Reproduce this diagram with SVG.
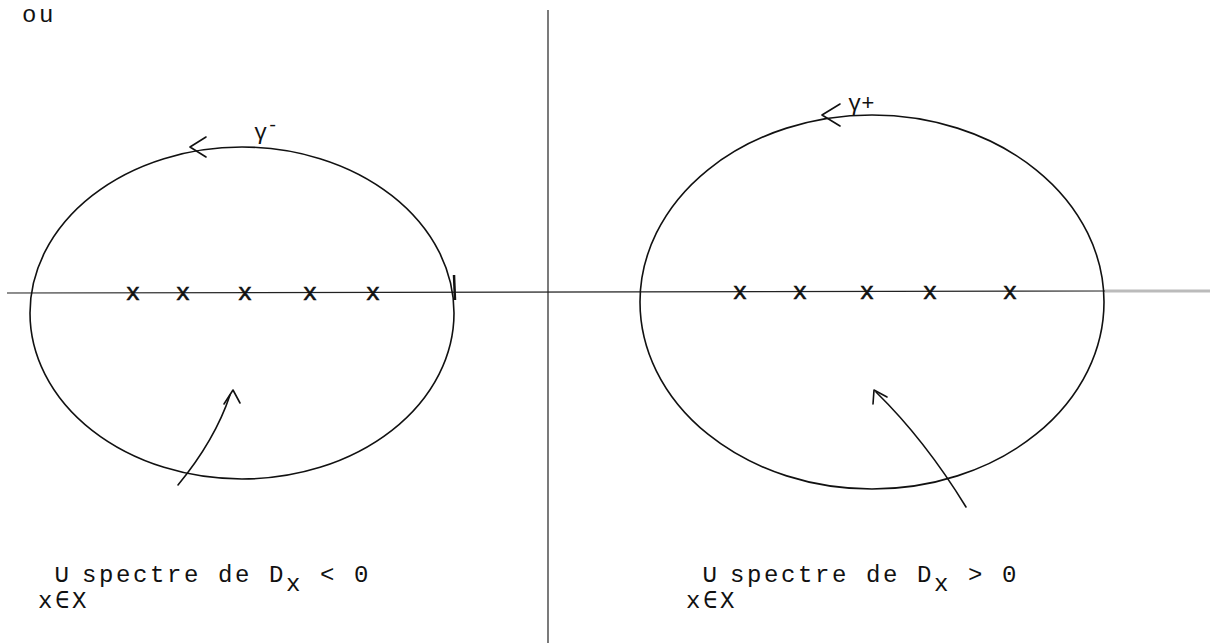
<svg xmlns="http://www.w3.org/2000/svg" width="1220" height="643" viewBox="0 0 1220 643">
<style>
.ln{fill:none;stroke:#111;stroke-width:1.6;stroke-linecap:round;stroke-linejoin:round}
.thin{fill:none;stroke:#222;stroke-width:1.2}
.t{font-family:"Liberation Mono","DejaVu Sans Mono",monospace;font-size:24px;fill:#111;letter-spacing:2.6px}
.u{font-family:"DejaVu Sans Mono",monospace;font-size:26px;fill:#111}
.s{font-family:"Liberation Mono","DejaVu Sans Mono",monospace;font-size:22px;fill:#111}
.cr{font-family:"Liberation Mono","DejaVu Sans Mono",monospace;font-size:24px;fill:#111;text-anchor:middle;stroke:#111;stroke-width:0.6}
</style>
<rect width="1220" height="643" fill="#fff"/>
<text class="t" x="22" y="22">ou</text>
<g id="axes">
<line class="thin" x1="548" y1="10" x2="548" y2="643"/>
<line class="thin" x1="7" y1="293" x2="1105" y2="291"/>
<line x1="1105" y1="291" x2="1210" y2="291" stroke="#bbb" stroke-width="3"/>
</g>
<g id="left-contour">
<ellipse class="ln" cx="242" cy="313" rx="212" ry="166"/>
<line x1="454" y1="275" x2="455" y2="300" stroke="#111" stroke-width="2.5"/>
<polyline class="ln" points="206,137 190,147 206,157"/>
<text class="s" x="254" y="139">γ<tspan dy="-8" font-size="18">-</tspan></text>
</g>
<g id="right-contour">
<ellipse class="ln" cx="872" cy="302" rx="232" ry="187"/>
<polyline class="ln" points="840,104 822,115 840,126"/>
<text class="s" x="848" y="110">γ+</text>
</g>
<g id="left-poles">
<text class="cr" x="133" y="300">x</text>
<text class="cr" x="183" y="300">x</text>
<text class="cr" x="245" y="300">x</text>
<text class="cr" x="310" y="300">x</text>
<text class="cr" x="373" y="300">x</text>
</g>
<g id="right-poles">
<text class="cr" x="740" y="299">x</text>
<text class="cr" x="800" y="299">x</text>
<text class="cr" x="867" y="299">x</text>
<text class="cr" x="930" y="299">x</text>
<text class="cr" x="1010" y="299">x</text>
</g>
<g id="connectors">
<path class="ln" d="M178,485 Q215,440 230,395"/>
<polyline class="ln" points="224,404 233,390 240,403"/>
<path class="ln" d="M966,507 Q925,440 876,392"/>
<polyline class="ln" points="873,404 874,390 887,397"/>
</g>
<g id="label-left">
<text class="u" x="54" y="582">∪</text>
<text class="t" x="82" y="582">spectre de D<tspan dy="9">x</tspan><tspan dy="-9"> &lt; 0</tspan></text>
<text class="t" x="38" y="608">x∈X</text>
</g>
<g id="label-right">
<text class="u" x="702" y="582">∪</text>
<text class="t" x="730" y="582">spectre de D<tspan dy="9">x</tspan><tspan dy="-9"> &gt; 0</tspan></text>
<text class="t" x="686" y="608">x∈X</text>
</g>
</svg>
